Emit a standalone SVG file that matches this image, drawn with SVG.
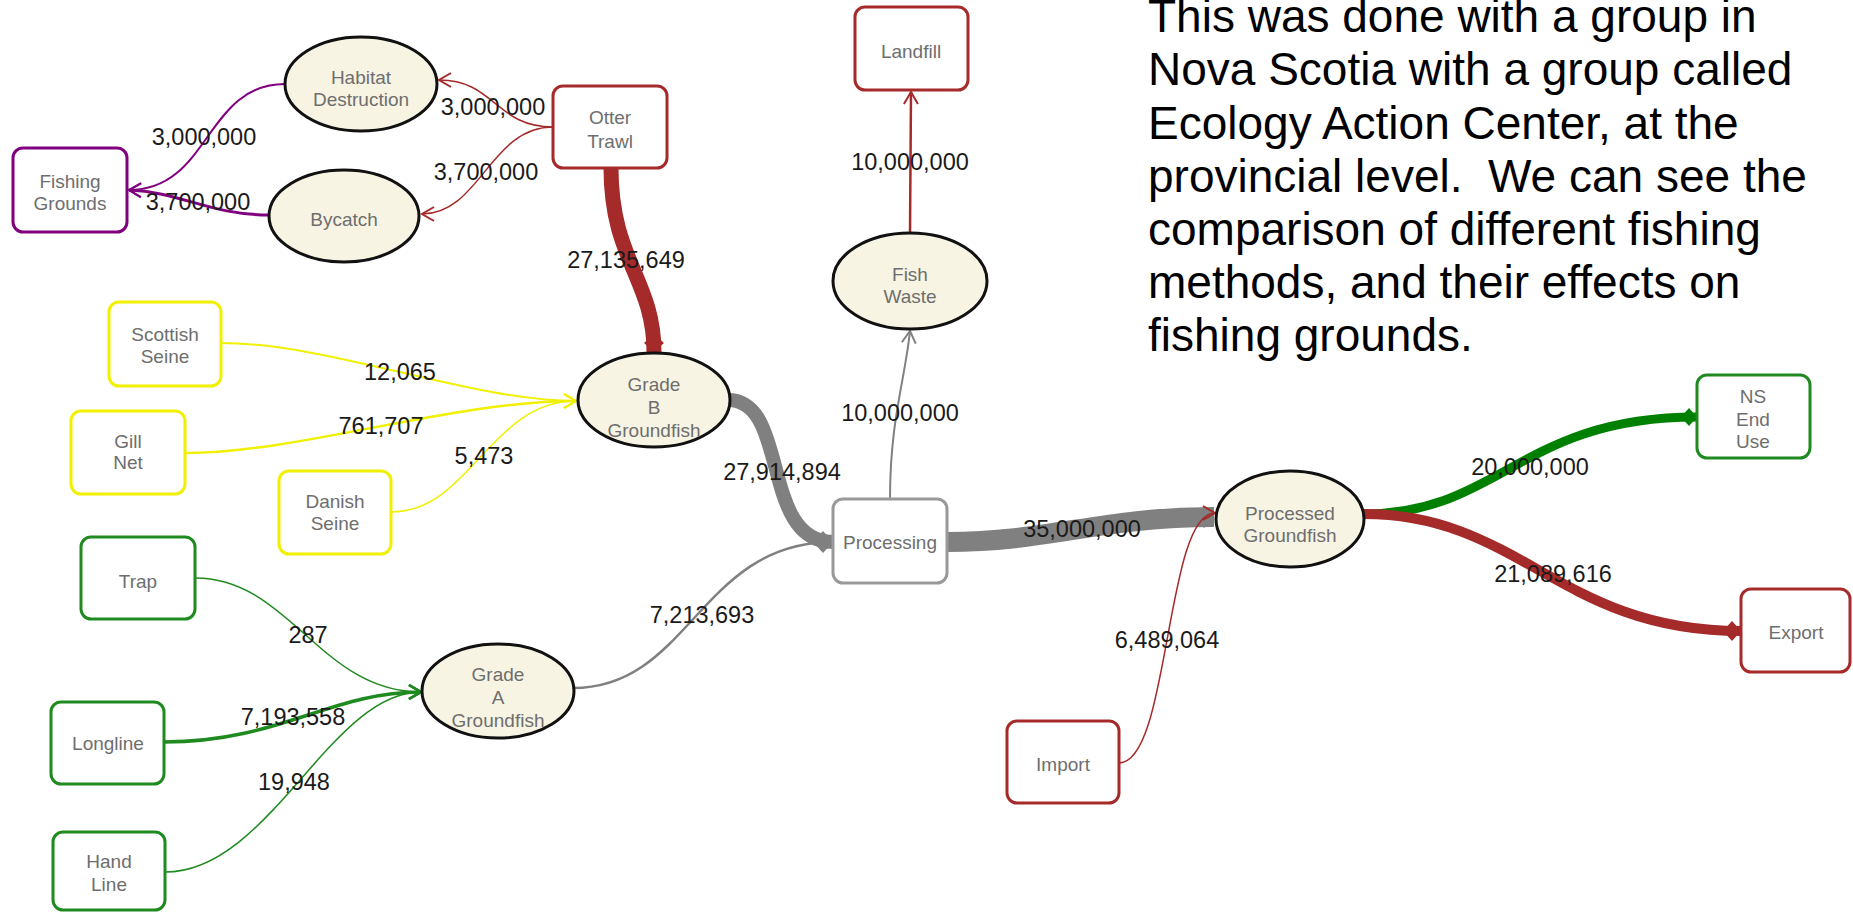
<svg xmlns="http://www.w3.org/2000/svg" width="1853" height="913" viewBox="0 0 1853 913">
<style>
.box{fill:#fff;stroke-width:3}
.ell{fill:#f8f4e4;stroke:#111;stroke-width:3}
.nt{font-family:"Liberation Sans",Arial,sans-serif;font-size:19px;fill:#6e6e6e;text-anchor:middle}
.lb{font-family:"Liberation Sans",Arial,sans-serif;font-size:23.5px;fill:#1a1a1a;text-anchor:middle}
.para{font-family:"Liberation Sans",Arial,sans-serif;font-size:46px;fill:#000;white-space:pre}
.e{fill:none}
</style>
<defs>
<marker id="vRed" markerUnits="userSpaceOnUse" viewBox="-14 -10 16 20" markerWidth="16" markerHeight="20" refX="0" refY="0" orient="auto"><path d="M-12,-7 L0,0 L-12,7" fill="none" stroke="#a52a2a" stroke-width="2"/></marker>
<marker id="vPur" markerUnits="userSpaceOnUse" viewBox="-14 -10 16 20" markerWidth="16" markerHeight="20" refX="0" refY="0" orient="auto"><path d="M-12,-7 L0,0 L-12,7" fill="none" stroke="#800080" stroke-width="2"/></marker>
<marker id="vYel" markerUnits="userSpaceOnUse" viewBox="-14 -10 16 20" markerWidth="16" markerHeight="20" refX="0" refY="0" orient="auto"><path d="M-12,-7 L0,0 L-12,7" fill="none" stroke="#f0f000" stroke-width="2"/></marker>
<marker id="vGrn" markerUnits="userSpaceOnUse" viewBox="-14 -10 16 20" markerWidth="16" markerHeight="20" refX="0" refY="0" orient="auto"><path d="M-12,-7 L0,0 L-12,7" fill="none" stroke="#1f8a1f" stroke-width="2.5"/></marker>
<marker id="vGry" markerUnits="userSpaceOnUse" viewBox="-14 -10 16 20" markerWidth="16" markerHeight="20" refX="0" refY="0" orient="auto"><path d="M-12,-7 L0,0 L-12,7" fill="none" stroke="#808080" stroke-width="2"/></marker>
<marker id="dGry" markerUnits="userSpaceOnUse" viewBox="-22 -14 24 28" markerWidth="24" markerHeight="28" refX="0" refY="0" orient="auto"><path d="M-20,0 L-10,-11 L0,0 L-10,11 Z" fill="#808080"/></marker>
<marker id="dRed" markerUnits="userSpaceOnUse" viewBox="-22 -14 24 28" markerWidth="24" markerHeight="28" refX="0" refY="0" orient="auto"><path d="M-18,0 L-9,-10 L0,0 L-9,10 Z" fill="#a52a2a"/></marker>
<marker id="dGrn" markerUnits="userSpaceOnUse" viewBox="-22 -14 24 28" markerWidth="24" markerHeight="28" refX="0" refY="0" orient="auto"><path d="M-16,0 L-8,-9 L0,0 L-8,9 Z" fill="#008000"/></marker>
</defs>

<g id="connectors">
<path class="e" d="M553,127 C495,127 495,80 439,80" stroke="#a52a2a" stroke-width="1.5" marker-end="url(#vRed)"/>
<path class="e" d="M553,127 C490,127 480,214 422,214" stroke="#a52a2a" stroke-width="1.5" marker-end="url(#vRed)"/>
<path class="e" d="M285,84 C205,84 210,190 129,190" stroke="#800080" stroke-width="2" marker-end="url(#vPur)"/>
<path class="e" d="M269,215 C210,215 180,192 129,190" stroke="#800080" stroke-width="3" marker-end="url(#vPur)"/>
<path class="e" d="M611,168 C611,260 654,280 654,352" stroke="#a52a2a" stroke-width="15" marker-end="url(#dRed)"/>
<path class="e" d="M221,343 C330,343 470,401 576,401" stroke="#f0f000" stroke-width="2" marker-end="url(#vYel)"/>
<path class="e" d="M185,453 C300,453 450,401 576,401" stroke="#f0f000" stroke-width="2.5" marker-end="url(#vYel)"/>
<path class="e" d="M391,512 C470,512 490,401 576,401" stroke="#f0f000" stroke-width="1.5" marker-end="url(#vYel)"/>
<path class="e" d="M195,578 C290,578 320,692 421,692" stroke="#1f8a1f" stroke-width="1.5" marker-end="url(#vGrn)"/>
<path class="e" d="M164,742 C280,742 330,692 421,692" stroke="#1f8a1f" stroke-width="3.5" marker-end="url(#vGrn)"/>
<path class="e" d="M165,872 C270,872 330,692 421,692" stroke="#1f8a1f" stroke-width="1.5" marker-end="url(#vGrn)"/>
<path class="e" d="M573,688 C690,688 700,542 833,542" stroke="#808080" stroke-width="2.5" marker-end="url(#vGry)"/>
<path class="e" d="M728,400 C790,400 760,542 833,542" stroke="#808080" stroke-width="14" marker-end="url(#dGry)"/>
<path class="e" d="M890,499 C890,420 905,380 910,331" stroke="#808080" stroke-width="2" marker-end="url(#vGry)"/>
<path class="e" d="M910,233 L911,92" stroke="#a52a2a" stroke-width="2.5" marker-end="url(#vRed)"/>
<path class="e" d="M947,542 C1050,542 1100,517 1214,517" stroke="#808080" stroke-width="20" marker-end="url(#dGry)"/>
<path class="e" d="M1119,763 C1170,763 1165,513 1215,513" stroke="#a52a2a" stroke-width="1.5" marker-end="url(#vRed)"/>
<path class="e" d="M1364,514 C1500,514 1520,417 1697,417" stroke="#008000" stroke-width="9" marker-end="url(#dGrn)"/>
<path class="e" d="M1364,514 C1520,514 1560,631 1741,631" stroke="#a52a2a" stroke-width="10" marker-end="url(#dRed)"/>

<text class="lb" x="204" y="145">3,000,000</text>
<text class="lb" x="198" y="210">3,700,000</text>
<text class="lb" x="493" y="115">3,000,000</text>
<text class="lb" x="486" y="180">3,700,000</text>
<text class="lb" x="626" y="268">27,135,649</text>
<text class="lb" x="910" y="170">10,000,000</text>
<text class="lb" x="400" y="380">12,065</text>
<text class="lb" x="381" y="434">761,707</text>
<text class="lb" x="484" y="464">5,473</text>
<text class="lb" x="782" y="480">27,914,894</text>
<text class="lb" x="900" y="421">10,000,000</text>
<text class="lb" x="702" y="623">7,213,693</text>
<text class="lb" x="1082" y="537">35,000,000</text>
<text class="lb" x="308" y="643">287</text>
<text class="lb" x="293" y="725">7,193,558</text>
<text class="lb" x="294" y="790">19,948</text>
<text class="lb" x="1167" y="648">6,489,064</text>
<text class="lb" x="1530" y="475">20,000,000</text>
<text class="lb" x="1553" y="582">21,089,616</text>
</g>

<g id="fishing-grounds"><rect class="box" x="13" y="148" width="114" height="84" rx="10" stroke="#800080"/><text class="nt" x="70" y="188">Fishing</text><text class="nt" x="70" y="210">Grounds</text></g>
<g id="habitat-destruction"><ellipse class="ell" cx="361" cy="84" rx="76" ry="47"/><text class="nt" x="361" y="84">Habitat</text><text class="nt" x="361" y="106">Destruction</text></g>
<g id="bycatch"><ellipse class="ell" cx="344" cy="216" rx="75" ry="46"/><text class="nt" x="344" y="226">Bycatch</text></g>
<g id="otter-trawl"><rect class="box" x="553" y="86" width="114" height="82" rx="10" stroke="#a52a2a"/><text class="nt" x="610" y="124">Otter</text><text class="nt" x="610" y="148">Trawl</text></g>
<g id="landfill"><rect class="box" x="855" y="7" width="113" height="83" rx="10" stroke="#a52a2a"/><text class="nt" x="911" y="58">Landfill</text></g>
<g id="fish-waste"><ellipse class="ell" cx="910" cy="281" rx="77" ry="48"/><text class="nt" x="910" y="281">Fish</text><text class="nt" x="910" y="303">Waste</text></g>
<g id="scottish-seine"><rect class="box" x="109" y="302" width="112" height="84" rx="10" stroke="#f0f000"/><text class="nt" x="165" y="341">Scottish</text><text class="nt" x="165" y="363">Seine</text></g>
<g id="gill-net"><rect class="box" x="71" y="411" width="114" height="83" rx="10" stroke="#f0f000"/><text class="nt" x="128" y="448">Gill</text><text class="nt" x="128" y="469">Net</text></g>
<g id="danish-seine"><rect class="box" x="279" y="471" width="112" height="83" rx="10" stroke="#f0f000"/><text class="nt" x="335" y="508">Danish</text><text class="nt" x="335" y="530">Seine</text></g>
<g id="trap"><rect class="box" x="81" y="537" width="114" height="82" rx="10" stroke="#1f8a1f"/><text class="nt" x="138" y="588">Trap</text></g>
<g id="longline"><rect class="box" x="51" y="702" width="113" height="82" rx="10" stroke="#1f8a1f"/><text class="nt" x="108" y="750">Longline</text></g>
<g id="hand-line"><rect class="box" x="53" y="832" width="112" height="78" rx="10" stroke="#1f8a1f"/><text class="nt" x="109" y="868">Hand</text><text class="nt" x="109" y="891">Line</text></g>
<g id="grade-b-groundfish"><ellipse class="ell" cx="654" cy="400" rx="76" ry="47"/><text class="nt" x="654" y="391">Grade</text><text class="nt" x="654" y="414">B</text><text class="nt" x="654" y="437">Groundfish</text></g>
<g id="grade-a-groundfish"><ellipse class="ell" cx="498" cy="691" rx="76" ry="47"/><text class="nt" x="498" y="681">Grade</text><text class="nt" x="498" y="704">A</text><text class="nt" x="498" y="727">Groundfish</text></g>
<g id="processing"><rect class="box" x="833" y="499" width="114" height="84" rx="10" stroke="#999"/><text class="nt" x="890" y="549">Processing</text></g>
<g id="processed-groundfish"><ellipse class="ell" cx="1290" cy="519" rx="74" ry="48"/><text class="nt" x="1290" y="520">Processed</text><text class="nt" x="1290" y="542">Groundfish</text></g>
<g id="ns-end-use"><rect class="box" x="1697" y="375" width="113" height="83" rx="10" stroke="#1f8a1f"/><text class="nt" x="1753" y="403">NS</text><text class="nt" x="1753" y="426">End</text><text class="nt" x="1753" y="448">Use</text></g>
<g id="export"><rect class="box" x="1741" y="589" width="109" height="83" rx="10" stroke="#a52a2a"/><text class="nt" x="1796" y="639">Export</text></g>
<g id="import"><rect class="box" x="1007" y="721" width="112" height="82" rx="10" stroke="#a52a2a"/><text class="nt" x="1063" y="771">Import</text></g>

<g id="note">
<text class="para" x="1148" y="32">This was done with a group in</text>
<text class="para" x="1148" y="85">Nova Scotia with a group called</text>
<text class="para" x="1148" y="139">Ecology Action Center, at the</text>
<text class="para" x="1148" y="192">provincial level.  We can see the</text>
<text class="para" x="1148" y="245">comparison of different fishing</text>
<text class="para" x="1148" y="298">methods, and their effects on</text>
<text class="para" x="1148" y="351">fishing grounds.</text>
</g>
</svg>
